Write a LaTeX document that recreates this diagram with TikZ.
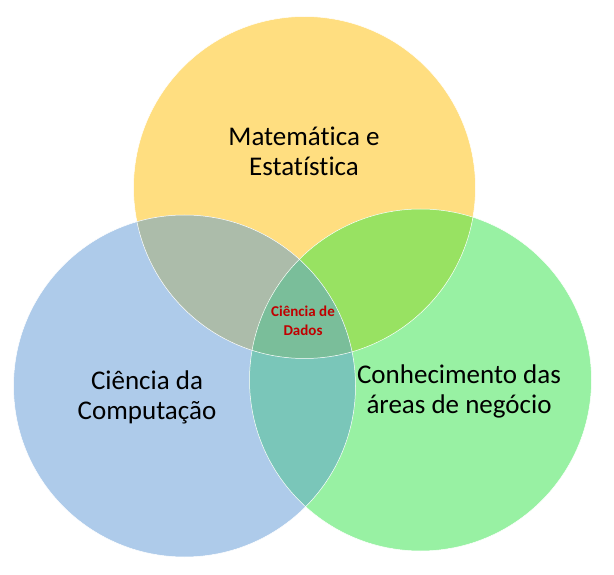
\documentclass[tikz,border=0pt]{standalone}
\usepackage{fontspec}
\setmainfont{Carlito}[Ligatures={NoCommon}]
\usepackage{xcolor}
\usepackage{tikz}
\definecolor{matyellow}{RGB}{255,222,128}
\definecolor{compblue}{RGB}{174,203,234}
\definecolor{neggreen}{RGB}{152,241,163}
\definecolor{matcomp}{RGB}{172,188,170}
\definecolor{matneg}{RGB}{152,226,98}
\definecolor{compneg}{RGB}{122,198,185}
\definecolor{coremix}{RGB}{122,190,154}
\definecolor{corered}{RGB}{192,0,0}
\tikzset{
  rim/.style={draw=white, line width=0.5pt},
  setlabel/.style={align=center, text=black,
    font=\fontsize{27}{30}\selectfont},
  corelabel/.style={align=center, text=corered,
    font=\bfseries\fontsize{15}{19}\selectfont}
}

\begin{document}
\begin{tikzpicture}[x=1pt, y=1pt]
  \useasboundingbox (0,0) rectangle (614,574);
  \coordinate (mat) at (304.5,386.5);
  \coordinate (comp) at (184.5,188);
  \coordinate (neg) at (420.5,194);
  % the three sets
  \fill[matyellow] (mat) circle[radius=171pt];
  \fill[compblue] (comp) circle[radius=171pt];
  \fill[neggreen] (neg) circle[radius=171pt];
  % pairwise overlaps
  \begin{scope}
    \clip (mat) circle[radius=171pt];
    \fill[matcomp] (comp) circle[radius=171pt];
    \fill[matneg] (neg) circle[radius=171pt];
  \end{scope}
  \begin{scope}
    \clip (comp) circle[radius=171pt];
    \fill[compneg] (neg) circle[radius=171pt];
  \end{scope}
  % centre
  \begin{scope}
    \clip (mat) circle[radius=171pt];
    \clip (comp) circle[radius=171pt];
    \fill[coremix] (neg) circle[radius=171pt];
  \end{scope}
  \draw[rim] (mat) circle[radius=171pt];
  \draw[rim] (comp) circle[radius=171pt];
  \draw[rim] (neg) circle[radius=171pt];
  \node[setlabel] (matlabel) at (304,423) {Matemática e\\Estatística};
  \node[setlabel] (complabel) at (147,177) {Ciência da\\Computação};
  \node[setlabel] (neglabel) at (459,183) {Conhecimento das\\áreas de negócio};
  \node[corelabel] (core) at (303,253) {Ciência de\\Dados};
\end{tikzpicture}
\end{document}
